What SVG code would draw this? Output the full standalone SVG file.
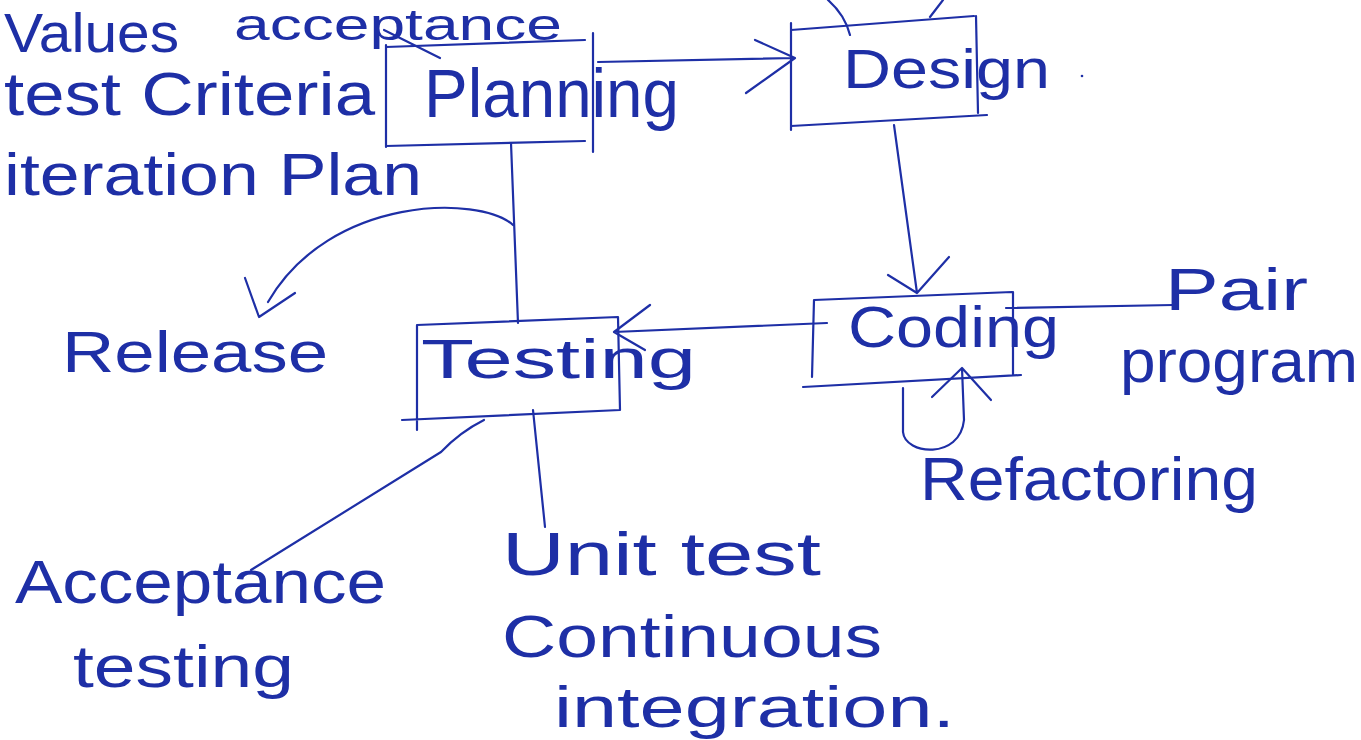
<svg xmlns="http://www.w3.org/2000/svg" width="1361" height="740" viewBox="0 0 1361 740">
  <style>
    .ink { fill: none; stroke: #1e2fa6; stroke-width: 2.2; stroke-linecap: round; stroke-linejoin: round; }
    .hand { font-family: "Liberation Sans", "DejaVu Sans", sans-serif; fill: #1e2fa6; }
  </style>
  <rect width="1361" height="740" fill="#ffffff"/>

  <!-- Process stages -->
  <g id="planning">
    <path class="ink" d="M386 47 L585 40 M386 45 L386 147 M593 33 L593 152 M386 146 L585 141"/>
    <text class="hand" x="424" y="117" font-size="68" textLength="255" lengthAdjust="spacingAndGlyphs">Planning</text>
  </g>

  <g id="design">
    <path class="ink" d="M791 30 L974 16 M791 23 L791 130 M976 16 L978 113 M791 126 L987 115"/>
    <text class="hand" x="843" y="88" font-size="56" textLength="207" lengthAdjust="spacingAndGlyphs">Design</text>
    <circle cx="1082" cy="76" r="1.3" fill="#1e2fa6"/>
  </g>

  <g id="coding">
    <path class="ink" d="M814 300 L1012 292 M814 300 L812 377 M1013 292 L1013 375 M803 387 L1021 375"/>
    <text class="hand" x="848" y="347" font-size="58" textLength="211" lengthAdjust="spacingAndGlyphs">Coding</text>
  </g>

  <g id="testing">
    <path class="ink" d="M417 325 L618 317 M417 325 L417 430 M618 317 L620 410 M402 420 L620 410"/>
    <text class="hand" x="421" y="378" font-size="56" textLength="275" lengthAdjust="spacingAndGlyphs">Testing</text>
  </g>

  <!-- Notes attached to the stages -->
  <g id="planning-notes">
    <text class="hand" x="4" y="52" font-size="56" textLength="175" lengthAdjust="spacingAndGlyphs">Values</text>
    <text class="hand" x="234" y="40" font-size="44" textLength="328" lengthAdjust="spacingAndGlyphs">acceptance</text>
    <text class="hand" x="4" y="115" font-size="62" textLength="371" lengthAdjust="spacingAndGlyphs">test Criteria</text>
    <text class="hand" x="4" y="195" font-size="60" textLength="418" lengthAdjust="spacingAndGlyphs">iteration Plan</text>
  </g>

  <g id="release">
    <text class="hand" x="62" y="372" font-size="58" textLength="266" lengthAdjust="spacingAndGlyphs">Release</text>
  </g>

  <g id="pair-programming">
    <text class="hand" x="1165" y="310" font-size="60" textLength="143" lengthAdjust="spacingAndGlyphs">Pair</text>
    <text class="hand" x="1120" y="382" font-size="62" textLength="238" lengthAdjust="spacingAndGlyphs">program</text>
  </g>

  <g id="refactoring">
    <text class="hand" x="920" y="500" font-size="62" textLength="338" lengthAdjust="spacingAndGlyphs">Refactoring</text>
  </g>

  <g id="acceptance-testing">
    <text class="hand" x="15" y="603" font-size="62" textLength="371" lengthAdjust="spacingAndGlyphs">Acceptance</text>
    <text class="hand" x="73" y="687" font-size="60" textLength="221" lengthAdjust="spacingAndGlyphs">testing</text>
  </g>

  <g id="unit-test">
    <text class="hand" x="502" y="575" font-size="62" textLength="319" lengthAdjust="spacingAndGlyphs">Unit test</text>
    <text class="hand" x="502" y="657" font-size="60" textLength="380" lengthAdjust="spacingAndGlyphs">Continuous</text>
    <text class="hand" x="554" y="727" font-size="58" textLength="401" lengthAdjust="spacingAndGlyphs">integration.</text>
  </g>

  <!-- Connectors -->
  <g id="connectors">
    <!-- Planning to Design -->
    <path class="ink" d="M598 62 L795 58 M755 40 L795 58 L746 93"/>
    <!-- Design to Coding -->
    <path class="ink" d="M894 125 L917 293 M888 275 L917 293 L949 257"/>
    <!-- Coding to Testing -->
    <path class="ink" d="M827 323 L614 332 M650 305 L614 332 L645 350"/>
    <!-- Planning down to Testing -->
    <path class="ink" d="M511 143 L518 323"/>
    <!-- Loop back to Release -->
    <path class="ink" d="M513 225 C 480 195 330 195 268 302 M245 278 L259 317 L295 293"/>
    <!-- Refactoring loop on Coding -->
    <path class="ink" d="M903 388 L903 432 C 905 455 960 460 964 420 L962 368 M932 397 L962 368 L991 400"/>
    <!-- Coding to Pair programming -->
    <path class="ink" d="M1006 308 L1173 305"/>
    <!-- Testing to its notes -->
    <path class="ink" d="M484 420 Q 460 432 441 452 L251 570"/>
    <path class="ink" d="M533 410 L545 527"/>
    <!-- acceptance note to Planning -->
    <path class="ink" d="M384 30 L440 58"/>
    <!-- strokes entering Design from above -->
    <path class="ink" d="M828 0 Q 845 15 850 35 M943 0 L930 17"/>
  </g>
</svg>
